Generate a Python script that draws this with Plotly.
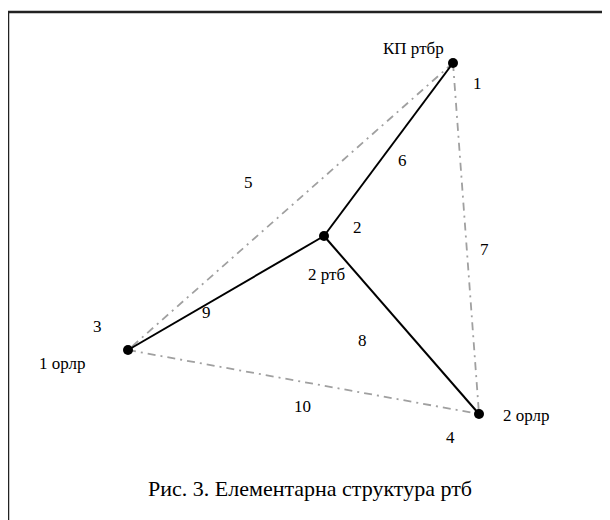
import plotly.graph_objects as go

# Node positions (picture units, y downward)
node_names = ["КП ртбр", "2 ртб", "1 орлр", "2 орлр"]
node_x = [453, 324, 128, 479]
node_y = [63, 236, 350, 414]

# Solid links (index pairs)
solid_links = [(0, 1), (1, 2), (1, 3)]
# Dash-dot links
dash_links = [(0, 2), (0, 3), (2, 3)]

# Node labels
label_text = ["КП ртбр", "2 ртб", "1 орлр", "2 орлр"]
label_x = [413, 326, 62, 526]
label_y = [48, 274, 363, 415]
label_bg = [False, True, False, False]

# Number labels
num_text = ["1", "2", "3", "4", "5", "6", "7", "8", "9", "10"]
num_x = [477, 357, 97, 450, 248, 402, 484, 362, 206, 302]
num_y = [83, 227, 326, 437, 182, 160, 249, 340, 312, 406]

caption = "Рис. 3. Елементарна структура ртб"

font = "Liberation Serif"
fig = go.Figure()

for a, b in dash_links:
    fig.add_trace(go.Scatter(x=[node_x[a], node_x[b]], y=[node_y[a], node_y[b]],
                             mode="lines", line=dict(color="#a0a0a0", width=1.8, dash="8px,5px,2px,5px"),
                             hoverinfo="skip", showlegend=False))
for a, b in solid_links:
    fig.add_trace(go.Scatter(x=[node_x[a], node_x[b]], y=[node_y[a], node_y[b]],
                             mode="lines", line=dict(color="black", width=2),
                             hoverinfo="skip", showlegend=False))

fig.add_trace(go.Scatter(x=node_x, y=node_y, mode="markers",
                         marker=dict(color="black", size=10), text=node_names,
                         showlegend=False))

for t, x, y, bg in zip(label_text, label_x, label_y, label_bg):
    fig.add_annotation(x=x, y=y, text=t, showarrow=False, xref="x", yref="y",
                       bgcolor="white" if bg else None, borderpad=0,
                       font=dict(family=font, size=17, color="black"))
for t, x, y in zip(num_text, num_x, num_y):
    fig.add_annotation(x=x, y=y, text=t, showarrow=False, xref="x", yref="y",
                       font=dict(family=font, size=17, color="black"))

fig.add_annotation(x=310, y=488, text=caption, showarrow=False,
                   font=dict(family=font, size=22, color="black"), xref="x", yref="y")

fig.add_shape(type="rect", x0=8, y0=12, x1=660, y1=580, xref="x", yref="y",
              line=dict(color="#222", width=2.5), layer="below")

# page has an 8px body margin, so the axis ranges are offset to keep page coordinates
fig.update_layout(width=610, height=520, margin=dict(l=0, r=0, t=0, b=0),
                  paper_bgcolor="white", plot_bgcolor="white",
                  xaxis=dict(range=[8, 618], visible=False, fixedrange=True),
                  yaxis=dict(range=[528, 8], visible=False, fixedrange=True),
                  showlegend=False)

fig.write_html("out.html")
